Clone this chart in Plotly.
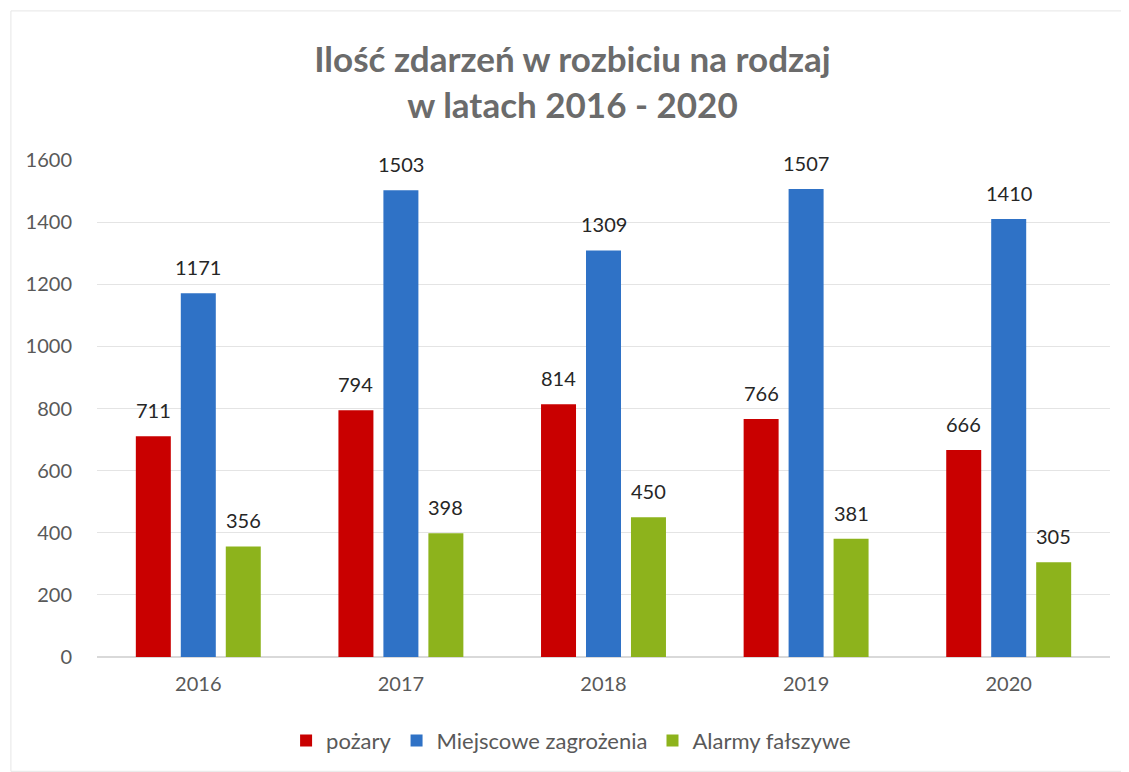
import plotly.graph_objects as go

years = ["2016", "2017", "2018", "2019", "2020"]
pozary = [711, 794, 814, 766, 666]
miejscowe = [1171, 1503, 1309, 1507, 1410]
alarmy = [356, 398, 450, 381, 305]

series = [
    ("pożary", pozary, "#C90000"),
    ("Miejscowe zagrożenia", miejscowe, "#2F72C6"),
    ("Alarmy fałszywe", alarmy, "#8DB31C"),
]

FONT = "Lato, 'Open Sans', sans-serif"

fig = go.Figure()
for name, vals, col in series:
    fig.add_trace(go.Bar(
        x=years, y=vals, name=name,
        marker=dict(color=col, line=dict(width=0)),
        cliponaxis=False,
    ))

# value labels above the bars (category axis: annotation x is the category index)
offsets = [-45, 0, 45]
annotations = []
for (name, vals, col), dx in zip(series, offsets):
    for i, v in enumerate(vals):
        annotations.append(dict(
            x=i, y=v, xref="x", yref="y", text=str(v), showarrow=False,
            xanchor="center", yanchor="bottom", xshift=dx, yshift=12,
            font=dict(size=20, color="#262626", family=FONT),
        ))

fig.update_layout(
    width=1129, height=772,
    paper_bgcolor="white", plot_bgcolor="white",
    margin=dict(l=89, r=27, t=152, b=123),
    barmode="group", bargap=0.334, bargroupgap=0.222,
    font=dict(family=FONT, color="#595959"),
    title=dict(
        text="Ilość zdarzeń w rozbiciu na rodzaj<br>w latach 2016 - 2020",
        x=0.5, xanchor="center", y=0.917, yanchor="top",
        font=dict(size=35, color="#6B6B6B", family=FONT, weight="bold"),
    ),
    showlegend=True,
    legend=dict(
        orientation="h", x=0.468, xanchor="center", y=-0.126, yanchor="top",
        font=dict(size=22, color="#595959", family=FONT),
        itemwidth=30, traceorder="normal",
    ),
    yaxis=dict(
        range=[0, 1600], dtick=200, showgrid=True, gridcolor="#E4E4E4",
        tickfont=dict(size=20, color="#595959"), zeroline=True,
        zerolinecolor="#D9D9D9", ticks="", ticklabelstandoff=24,
    ),
    xaxis=dict(
        type="category", categoryorder="array", categoryarray=years,
        range=[-0.5, len(years) - 0.5],
        tickfont=dict(size=20, color="#595959"), showline=True,
        linecolor="#D9D9D9", ticks="", ticklabelstandoff=9,
    ),
    annotations=annotations,
    shapes=[dict(type="rect", xref="paper", yref="paper",
                 x0=-0.085, x1=1.015, y0=-0.23, y1=1.3,
                 line=dict(color="#E6E6E6", width=1))],
)

fig.write_html("out.html")
